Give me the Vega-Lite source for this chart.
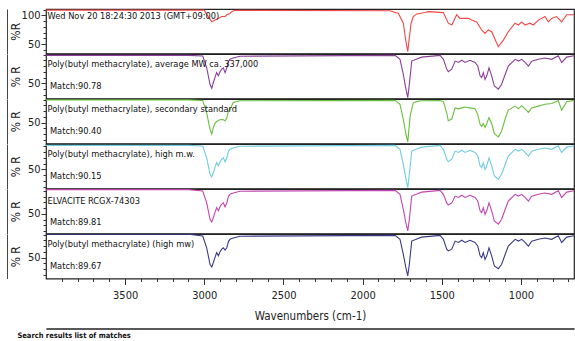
{
"$schema": "https://vega.github.io/schema/vega-lite/v6.json",
"padding": {"left": 6, "top": 2, "right": 0, "bottom": 0},
"spacing": 0,
"bounds": "flush",
"title": {"text": "Search results list of matches", "orient": "bottom", "anchor": "start", "frame": "bounds", "offset": 3, "dx": 11, "fontSize": 7.5, "fontWeight": "bold", "color": "#111"},
"datasets": {
"labels": [
{"p":1,"name":"Wed Nov 20 18:24:30 2013 (GMT+09:00)","match":""},
{"p":2,"name":"Poly(butyl methacrylate), average MW ca. 337,000","match":"Match:90.78"},
{"p":3,"name":"Poly(butyl methacrylate), secondary standard","match":"Match:90.40"},
{"p":4,"name":"Poly(butyl methacrylate), high m.w.","match":"Match:90.15"},
{"p":5,"name":"ELVACITE RCGX-74303","match":"Match:89.81"},
{"p":6,"name":"Poly(butyl methacrylate) (high mw)","match":"Match:89.67"}
],
"spectra": [
{"p":1,"w":4000,"r":109},{"p":1,"w":3000,"r":109},{"p":1,"w":2996,"r":106.4},{"p":1,"w":2975,"r":97.9},{"p":1,"w":2953,"r":88.7},{"p":1,"w":2932,"r":91.8},{"p":1,"w":2911,"r":94.8},{"p":1,"w":2890,"r":97.9},{"p":1,"w":2869,"r":97.9},{"p":1,"w":2858,"r":101},{"p":1,"w":2838,"r":103.3},{"p":1,"w":2827,"r":106.4},{"p":1,"w":2806,"r":108.7},{"p":1,"w":1827,"r":107.9},{"p":1,"w":1774,"r":103.3},{"p":1,"w":1743,"r":86.4},{"p":1,"w":1728,"r":57.1},{"p":1,"w":1715,"r":37.1},{"p":1,"w":1707,"r":57.1},{"p":1,"w":1694,"r":86.4},{"p":1,"w":1680,"r":97.9},{"p":1,"w":1658,"r":102.5},{"p":1,"w":1606,"r":104.8},{"p":1,"w":1585,"r":106.4},{"p":1,"w":1490,"r":104.8},{"p":1,"w":1459,"r":86.4},{"p":1,"w":1437,"r":83.3},{"p":1,"w":1406,"r":101},{"p":1,"w":1385,"r":94.8},{"p":1,"w":1364,"r":94.8},{"p":1,"w":1332,"r":94.8},{"p":1,"w":1311,"r":91.8},{"p":1,"w":1280,"r":88.7},{"p":1,"w":1248,"r":74.8},{"p":1,"w":1227,"r":68.7},{"p":1,"w":1206,"r":74.8},{"p":1,"w":1185,"r":71.7},{"p":1,"w":1143,"r":45.6},{"p":1,"w":1111,"r":57.1},{"p":1,"w":1080,"r":71.7},{"p":1,"w":1037,"r":86.4},{"p":1,"w":1016,"r":83.3},{"p":1,"w":995,"r":88.7},{"p":1,"w":974,"r":83.3},{"p":1,"w":943,"r":86.4},{"p":1,"w":922,"r":83.3},{"p":1,"w":890,"r":91.8},{"p":1,"w":848,"r":97.9},{"p":1,"w":827,"r":88.7},{"p":1,"w":806,"r":94.8},{"p":1,"w":775,"r":97.9},{"p":1,"w":743,"r":88.7},{"p":1,"w":711,"r":101},{"p":1,"w":665,"r":101},
{"p":2,"w":4000,"r":98.7},{"p":2,"w":3100,"r":98.7},{"p":2,"w":3010,"r":97.5},{"p":2,"w":2985,"r":77.1},{"p":2,"w":2964,"r":48.6},{"p":2,"w":2953,"r":41.7},{"p":2,"w":2943,"r":51.7},{"p":2,"w":2932,"r":61},{"p":2,"w":2922,"r":68.7},{"p":2,"w":2911,"r":63.3},{"p":2,"w":2901,"r":70.2},{"p":2,"w":2890,"r":74.8},{"p":2,"w":2880,"r":77.1},{"p":2,"w":2869,"r":68.7},{"p":2,"w":2858,"r":77.1},{"p":2,"w":2848,"r":87.9},{"p":2,"w":2838,"r":91.8},{"p":2,"w":2817,"r":94.1},{"p":2,"w":2775,"r":97.2},{"p":2,"w":1795,"r":98.7},{"p":2,"w":1764,"r":91.8},{"p":2,"w":1743,"r":65.6},{"p":2,"w":1728,"r":42.5},{"p":2,"w":1715,"r":25.5},{"p":2,"w":1705,"r":48.6},{"p":2,"w":1690,"r":88.7},{"p":2,"w":1658,"r":92.5},{"p":2,"w":1627,"r":95.6},{"p":2,"w":1511,"r":98.7},{"p":2,"w":1490,"r":91.8},{"p":2,"w":1469,"r":74.8},{"p":2,"w":1459,"r":70.2},{"p":2,"w":1437,"r":74.8},{"p":2,"w":1416,"r":88.7},{"p":2,"w":1395,"r":86.4},{"p":2,"w":1374,"r":90.2},{"p":2,"w":1353,"r":86.4},{"p":2,"w":1322,"r":90.2},{"p":2,"w":1290,"r":86.4},{"p":2,"w":1273,"r":80.2},{"p":2,"w":1258,"r":63.3},{"p":2,"w":1248,"r":60.2},{"p":2,"w":1238,"r":68.7},{"p":2,"w":1227,"r":57.1},{"p":2,"w":1216,"r":63.3},{"p":2,"w":1202,"r":77.1},{"p":2,"w":1185,"r":63.3},{"p":2,"w":1168,"r":45.6},{"p":2,"w":1143,"r":40.2},{"p":2,"w":1122,"r":48.6},{"p":2,"w":1100,"r":65.6},{"p":2,"w":1080,"r":80.2},{"p":2,"w":1037,"r":91.8},{"p":2,"w":1016,"r":88.7},{"p":2,"w":995,"r":91.8},{"p":2,"w":974,"r":86.4},{"p":2,"w":953,"r":80.2},{"p":2,"w":932,"r":88.7},{"p":2,"w":890,"r":91.8},{"p":2,"w":848,"r":94.1},{"p":2,"w":806,"r":91.8},{"p":2,"w":764,"r":97.9},{"p":2,"w":743,"r":86.4},{"p":2,"w":711,"r":95.6},{"p":2,"w":665,"r":97.9},
{"p":3,"w":4000,"r":89.5},{"p":3,"w":3100,"r":89.5},{"p":3,"w":3010,"r":88.5},{"p":3,"w":2985,"r":67.1},{"p":3,"w":2964,"r":38.6},{"p":3,"w":2953,"r":30.2},{"p":3,"w":2943,"r":41.7},{"p":3,"w":2932,"r":49},{"p":3,"w":2922,"r":52},{"p":3,"w":2911,"r":54},{"p":3,"w":2901,"r":55},{"p":3,"w":2890,"r":55.6},{"p":3,"w":2880,"r":55},{"p":3,"w":2869,"r":53.3},{"p":3,"w":2858,"r":58},{"p":3,"w":2848,"r":70},{"p":3,"w":2838,"r":73},{"p":3,"w":2817,"r":84.8},{"p":3,"w":2775,"r":88},{"p":3,"w":1795,"r":88.7},{"p":3,"w":1764,"r":81.8},{"p":3,"w":1743,"r":55.6},{"p":3,"w":1728,"r":32.5},{"p":3,"w":1715,"r":16.5},{"p":3,"w":1700,"r":61.7},{"p":3,"w":1680,"r":84.8},{"p":3,"w":1658,"r":86.5},{"p":3,"w":1627,"r":87.9},{"p":3,"w":1511,"r":88.5},{"p":3,"w":1490,"r":86.5},{"p":3,"w":1469,"r":67.1},{"p":3,"w":1459,"r":53.3},{"p":3,"w":1437,"r":56.4},{"p":3,"w":1416,"r":75.6},{"p":3,"w":1395,"r":74},{"p":3,"w":1374,"r":75.6},{"p":3,"w":1353,"r":77.1},{"p":3,"w":1322,"r":75.6},{"p":3,"w":1290,"r":74},{"p":3,"w":1273,"r":64},{"p":3,"w":1258,"r":47.1},{"p":3,"w":1248,"r":43.3},{"p":3,"w":1238,"r":48.6},{"p":3,"w":1227,"r":41.7},{"p":3,"w":1216,"r":48.6},{"p":3,"w":1202,"r":58.7},{"p":3,"w":1185,"r":48.6},{"p":3,"w":1168,"r":30.9},{"p":3,"w":1143,"r":25.5},{"p":3,"w":1122,"r":35.6},{"p":3,"w":1100,"r":56.4},{"p":3,"w":1080,"r":71.8},{"p":3,"w":1037,"r":78.7},{"p":3,"w":1016,"r":74},{"p":3,"w":995,"r":79.5},{"p":3,"w":974,"r":74},{"p":3,"w":953,"r":67.9},{"p":3,"w":932,"r":75.6},{"p":3,"w":890,"r":78.7},{"p":3,"w":848,"r":81.8},{"p":3,"w":806,"r":83.3},{"p":3,"w":764,"r":87.9},{"p":3,"w":743,"r":71.8},{"p":3,"w":711,"r":86.4},{"p":3,"w":665,"r":88.7},
{"p":4,"w":4000,"r":91.7},{"p":4,"w":3100,"r":91.7},{"p":4,"w":3010,"r":90.5},{"p":4,"w":2985,"r":70.1},{"p":4,"w":2964,"r":41.6},{"p":4,"w":2953,"r":37},{"p":4,"w":2943,"r":44.7},{"p":4,"w":2932,"r":54},{"p":4,"w":2922,"r":61.7},{"p":4,"w":2911,"r":56.3},{"p":4,"w":2901,"r":63.2},{"p":4,"w":2890,"r":67.8},{"p":4,"w":2880,"r":70.1},{"p":4,"w":2869,"r":63.2},{"p":4,"w":2858,"r":70.1},{"p":4,"w":2848,"r":80.9},{"p":4,"w":2838,"r":84.8},{"p":4,"w":2817,"r":87.1},{"p":4,"w":2775,"r":90.2},{"p":4,"w":1795,"r":91.7},{"p":4,"w":1764,"r":84.8},{"p":4,"w":1743,"r":58.6},{"p":4,"w":1728,"r":35.5},{"p":4,"w":1715,"r":18.5},{"p":4,"w":1705,"r":41.6},{"p":4,"w":1690,"r":81.7},{"p":4,"w":1658,"r":85.5},{"p":4,"w":1627,"r":88.6},{"p":4,"w":1511,"r":91.7},{"p":4,"w":1490,"r":84.8},{"p":4,"w":1469,"r":67.8},{"p":4,"w":1459,"r":63.2},{"p":4,"w":1437,"r":67.8},{"p":4,"w":1416,"r":81.7},{"p":4,"w":1395,"r":79.4},{"p":4,"w":1374,"r":83.2},{"p":4,"w":1353,"r":79.4},{"p":4,"w":1322,"r":83.2},{"p":4,"w":1290,"r":79.4},{"p":4,"w":1273,"r":73.2},{"p":4,"w":1258,"r":56.3},{"p":4,"w":1248,"r":53.2},{"p":4,"w":1238,"r":61.7},{"p":4,"w":1227,"r":50.1},{"p":4,"w":1216,"r":56.3},{"p":4,"w":1202,"r":70.1},{"p":4,"w":1185,"r":56.3},{"p":4,"w":1168,"r":38.6},{"p":4,"w":1143,"r":33.2},{"p":4,"w":1122,"r":41.6},{"p":4,"w":1100,"r":58.6},{"p":4,"w":1080,"r":73.2},{"p":4,"w":1037,"r":84.8},{"p":4,"w":1016,"r":81.7},{"p":4,"w":995,"r":84.8},{"p":4,"w":974,"r":79.4},{"p":4,"w":953,"r":73.2},{"p":4,"w":932,"r":81.7},{"p":4,"w":890,"r":84.8},{"p":4,"w":848,"r":87.1},{"p":4,"w":806,"r":84.8},{"p":4,"w":764,"r":90.9},{"p":4,"w":743,"r":79.4},{"p":4,"w":711,"r":88.6},{"p":4,"w":665,"r":90.9},
{"p":5,"w":4000,"r":92},{"p":5,"w":3100,"r":92},{"p":5,"w":3010,"r":89.5},{"p":5,"w":2985,"r":69.1},{"p":5,"w":2964,"r":40.6},{"p":5,"w":2953,"r":36},{"p":5,"w":2943,"r":43.7},{"p":5,"w":2932,"r":53},{"p":5,"w":2922,"r":60.7},{"p":5,"w":2911,"r":55.3},{"p":5,"w":2901,"r":62.2},{"p":5,"w":2890,"r":66.8},{"p":5,"w":2880,"r":69.1},{"p":5,"w":2869,"r":62.2},{"p":5,"w":2858,"r":69.1},{"p":5,"w":2848,"r":79.9},{"p":5,"w":2838,"r":83.8},{"p":5,"w":2817,"r":86.1},{"p":5,"w":2775,"r":89.2},{"p":5,"w":1795,"r":90.7},{"p":5,"w":1764,"r":83.8},{"p":5,"w":1743,"r":57.6},{"p":5,"w":1728,"r":36},{"p":5,"w":1715,"r":20.6},{"p":5,"w":1705,"r":40.6},{"p":5,"w":1690,"r":80.7},{"p":5,"w":1658,"r":84.5},{"p":5,"w":1627,"r":87.6},{"p":5,"w":1511,"r":90.7},{"p":5,"w":1490,"r":83.8},{"p":5,"w":1469,"r":69},{"p":5,"w":1459,"r":65.3},{"p":5,"w":1437,"r":69},{"p":5,"w":1416,"r":80.7},{"p":5,"w":1395,"r":78.4},{"p":5,"w":1374,"r":82.2},{"p":5,"w":1353,"r":78.4},{"p":5,"w":1322,"r":82.2},{"p":5,"w":1290,"r":78.4},{"p":5,"w":1273,"r":72.2},{"p":5,"w":1258,"r":55.3},{"p":5,"w":1248,"r":52.2},{"p":5,"w":1238,"r":60.7},{"p":5,"w":1227,"r":49.1},{"p":5,"w":1216,"r":55.3},{"p":5,"w":1202,"r":69.1},{"p":5,"w":1185,"r":55.3},{"p":5,"w":1168,"r":37.6},{"p":5,"w":1143,"r":32.2},{"p":5,"w":1122,"r":40.6},{"p":5,"w":1100,"r":57.6},{"p":5,"w":1080,"r":72.2},{"p":5,"w":1037,"r":83.8},{"p":5,"w":1016,"r":80.7},{"p":5,"w":995,"r":83.8},{"p":5,"w":974,"r":78.4},{"p":5,"w":953,"r":72.2},{"p":5,"w":932,"r":80.7},{"p":5,"w":890,"r":83.8},{"p":5,"w":848,"r":86.1},{"p":5,"w":806,"r":83.8},{"p":5,"w":764,"r":89.9},{"p":5,"w":743,"r":78.4},{"p":5,"w":711,"r":87.6},{"p":5,"w":665,"r":89.9},
{"p":6,"w":4000,"r":90.5},{"p":6,"w":3100,"r":90.5},{"p":6,"w":3010,"r":87.5},{"p":6,"w":2985,"r":67.1},{"p":6,"w":2964,"r":38.6},{"p":6,"w":2953,"r":34},{"p":6,"w":2943,"r":41.7},{"p":6,"w":2932,"r":51},{"p":6,"w":2922,"r":58.7},{"p":6,"w":2911,"r":53.3},{"p":6,"w":2901,"r":60.2},{"p":6,"w":2890,"r":64.8},{"p":6,"w":2880,"r":67.1},{"p":6,"w":2869,"r":63.3},{"p":6,"w":2858,"r":67.1},{"p":6,"w":2848,"r":77.9},{"p":6,"w":2838,"r":81.8},{"p":6,"w":2817,"r":84.1},{"p":6,"w":2775,"r":87.2},{"p":6,"w":1795,"r":88.7},{"p":6,"w":1764,"r":81.8},{"p":6,"w":1743,"r":55.6},{"p":6,"w":1728,"r":34},{"p":6,"w":1715,"r":18.6},{"p":6,"w":1705,"r":38.6},{"p":6,"w":1690,"r":78.7},{"p":6,"w":1658,"r":82.5},{"p":6,"w":1627,"r":85.6},{"p":6,"w":1511,"r":88.7},{"p":6,"w":1490,"r":81.8},{"p":6,"w":1469,"r":64.8},{"p":6,"w":1459,"r":61.7},{"p":6,"w":1437,"r":64.8},{"p":6,"w":1416,"r":78.7},{"p":6,"w":1395,"r":76.4},{"p":6,"w":1374,"r":80.2},{"p":6,"w":1353,"r":76.4},{"p":6,"w":1322,"r":80.2},{"p":6,"w":1290,"r":76.4},{"p":6,"w":1273,"r":70.2},{"p":6,"w":1258,"r":53.3},{"p":6,"w":1248,"r":50.2},{"p":6,"w":1238,"r":58.7},{"p":6,"w":1227,"r":47.1},{"p":6,"w":1216,"r":53.3},{"p":6,"w":1202,"r":67.1},{"p":6,"w":1185,"r":53.3},{"p":6,"w":1168,"r":35.6},{"p":6,"w":1143,"r":31},{"p":6,"w":1122,"r":38.6},{"p":6,"w":1100,"r":55.6},{"p":6,"w":1080,"r":70.2},{"p":6,"w":1037,"r":81.8},{"p":6,"w":1016,"r":78.7},{"p":6,"w":995,"r":81.8},{"p":6,"w":974,"r":76.4},{"p":6,"w":953,"r":70.2},{"p":6,"w":932,"r":78.7},{"p":6,"w":890,"r":81.8},{"p":6,"w":848,"r":84.1},{"p":6,"w":806,"r":81.8},{"p":6,"w":764,"r":87.9},{"p":6,"w":743,"r":76.4},{"p":6,"w":711,"r":85.6},{"p":6,"w":665,"r":87.9}
]
},
"vconcat": [
{"width": 528, "height": 44.5,
 "layer": [
  {"data": {"name": "spectra"}, "transform": [{"filter": "datum.p === 1"}],
   "mark": {"type": "line", "color": "#f04848", "strokeWidth": 1.1, "clip": true},
   "encoding": {
    "x": {"field": "w", "type": "quantitative", "scale": {"domain": [4000, 665], "nice": false, "zero": false}, "axis": null},
    "y": {"field": "r", "type": "quantitative", "scale": {"domain": [34, 111], "nice": false, "zero": false},
     "axis": {"title": "%R", "values": [40,50,60,70,80,90,100,110], "labelExpr": "datum.value === 50 || datum.value === 100 ? datum.label : ''", "tickSize": {"condition": {"test": "datum.value % 50 === 0", "value": 5}, "value": 3}, "labelFontSize": 11, "labelPadding": 1, "titleFontSize": 12, "titleX": -31, "titleBaseline": "middle"}}}},
  {"data": {"name": "labels"}, "transform": [{"filter": "datum.p === 1"}],
   "mark": {"type": "text", "align": "left", "baseline": "middle", "fontSize": 9.2, "color": "#111"},
   "encoding": {
    "x": {"datum": 3990, "type": "quantitative", "scale": {"domain": [4000, 665], "nice": false, "zero": false}, "axis": null},
    "y": {"datum": 99, "type": "quantitative", "scale": {"domain": [34, 111], "nice": false, "zero": false},
     "axis": {"orient": "left", "offset": 39, "labels": false, "ticks": false, "title": null, "domain": true, "domainColor": "#444"}},
    "text": {"field": "name"}}}
 ],
 "resolve": {"axis": {"y": "independent"}}},
{"width": 528, "height": 44.5,
 "layer": [
  {"data": {"name": "spectra"}, "transform": [{"filter": "datum.p === 2"}],
   "mark": {"type": "line", "color": "#8b3f98", "strokeWidth": 1.1, "clip": true},
   "encoding": {
    "x": {"field": "w", "type": "quantitative", "scale": {"domain": [4000, 665], "nice": false, "zero": false}, "axis": null},
    "y": {"field": "r", "type": "quantitative", "scale": {"domain": [24, 101], "nice": false, "zero": false},
     "axis": {"title": "% R", "values": [30,40,50,60,70,80,90,100], "labelExpr": "datum.value === 50 ? datum.label : ''", "tickSize": {"condition": {"test": "datum.value === 50", "value": 5}, "value": 3}, "labelFontSize": 11, "labelPadding": 1, "titleFontSize": 12, "titleX": -31, "titleBaseline": "middle"}}}},
  {"data": {"name": "labels"}, "transform": [{"filter": "datum.p === 2"}],
   "mark": {"type": "text", "align": "left", "baseline": "middle", "fontSize": 9.2, "color": "#111"},
   "encoding": {
    "x": {"datum": 3990, "type": "quantitative", "scale": {"domain": [4000, 665], "nice": false, "zero": false}, "axis": null},
    "y": {"datum": 83, "type": "quantitative", "scale": {"domain": [24, 101], "nice": false, "zero": false},
     "axis": {"orient": "left", "offset": 39, "labels": false, "ticks": false, "title": null, "domain": true, "domainColor": "#444"}},
    "text": {"field": "name"}}},
  {"data": {"name": "labels"}, "transform": [{"filter": "datum.p === 2"}],
   "mark": {"type": "text", "align": "left", "baseline": "middle", "fontSize": 9.2, "color": "#111"},
   "encoding": {
    "x": {"datum": 3975, "type": "quantitative", "scale": {"domain": [4000, 665], "nice": false, "zero": false}, "axis": null},
    "y": {"datum": 46, "type": "quantitative", "scale": {"domain": [24, 101], "nice": false, "zero": false}, "axis": null},
    "text": {"field": "match"}}}
 ],
 "resolve": {"axis": {"y": "independent"}}},
{"width": 528, "height": 44.5,
 "layer": [
  {"data": {"name": "spectra"}, "transform": [{"filter": "datum.p === 3"}],
   "mark": {"type": "line", "color": "#6abf40", "strokeWidth": 1.1, "clip": true},
   "encoding": {
    "x": {"field": "w", "type": "quantitative", "scale": {"domain": [4000, 665], "nice": false, "zero": false}, "axis": null},
    "y": {"field": "r", "type": "quantitative", "scale": {"domain": [14, 91], "nice": false, "zero": false},
     "axis": {"title": "% R", "values": [20,30,40,50,60,70,80,90], "labelExpr": "datum.value === 50 ? datum.label : ''", "tickSize": {"condition": {"test": "datum.value === 50", "value": 5}, "value": 3}, "labelFontSize": 11, "labelPadding": 1, "titleFontSize": 12, "titleX": -31, "titleBaseline": "middle"}}}},
  {"data": {"name": "labels"}, "transform": [{"filter": "datum.p === 3"}],
   "mark": {"type": "text", "align": "left", "baseline": "middle", "fontSize": 9.2, "color": "#111"},
   "encoding": {
    "x": {"datum": 3990, "type": "quantitative", "scale": {"domain": [4000, 665], "nice": false, "zero": false}, "axis": null},
    "y": {"datum": 73, "type": "quantitative", "scale": {"domain": [14, 91], "nice": false, "zero": false},
     "axis": {"orient": "left", "offset": 39, "labels": false, "ticks": false, "title": null, "domain": true, "domainColor": "#444"}},
    "text": {"field": "name"}}},
  {"data": {"name": "labels"}, "transform": [{"filter": "datum.p === 3"}],
   "mark": {"type": "text", "align": "left", "baseline": "middle", "fontSize": 9.2, "color": "#111"},
   "encoding": {
    "x": {"datum": 3975, "type": "quantitative", "scale": {"domain": [4000, 665], "nice": false, "zero": false}, "axis": null},
    "y": {"datum": 36, "type": "quantitative", "scale": {"domain": [14, 91], "nice": false, "zero": false}, "axis": null},
    "text": {"field": "match"}}}
 ],
 "resolve": {"axis": {"y": "independent"}}},
{"width": 528, "height": 44.5,
 "layer": [
  {"data": {"name": "spectra"}, "transform": [{"filter": "datum.p === 4"}],
   "mark": {"type": "line", "color": "#6ecde0", "strokeWidth": 1.1, "clip": true},
   "encoding": {
    "x": {"field": "w", "type": "quantitative", "scale": {"domain": [4000, 665], "nice": false, "zero": false}, "axis": null},
    "y": {"field": "r", "type": "quantitative", "scale": {"domain": [17, 94], "nice": false, "zero": false},
     "axis": {"title": "% R", "values": [20,30,40,50,60,70,80,90], "labelExpr": "datum.value === 50 ? datum.label : ''", "tickSize": {"condition": {"test": "datum.value === 50", "value": 5}, "value": 3}, "labelFontSize": 11, "labelPadding": 1, "titleFontSize": 12, "titleX": -31, "titleBaseline": "middle"}}}},
  {"data": {"name": "labels"}, "transform": [{"filter": "datum.p === 4"}],
   "mark": {"type": "text", "align": "left", "baseline": "middle", "fontSize": 9.2, "color": "#111"},
   "encoding": {
    "x": {"datum": 3990, "type": "quantitative", "scale": {"domain": [4000, 665], "nice": false, "zero": false}, "axis": null},
    "y": {"datum": 76, "type": "quantitative", "scale": {"domain": [17, 94], "nice": false, "zero": false},
     "axis": {"orient": "left", "offset": 39, "labels": false, "ticks": false, "title": null, "domain": true, "domainColor": "#444"}},
    "text": {"field": "name"}}},
  {"data": {"name": "labels"}, "transform": [{"filter": "datum.p === 4"}],
   "mark": {"type": "text", "align": "left", "baseline": "middle", "fontSize": 9.2, "color": "#111"},
   "encoding": {
    "x": {"datum": 3975, "type": "quantitative", "scale": {"domain": [4000, 665], "nice": false, "zero": false}, "axis": null},
    "y": {"datum": 39, "type": "quantitative", "scale": {"domain": [17, 94], "nice": false, "zero": false}, "axis": null},
    "text": {"field": "match"}}}
 ],
 "resolve": {"axis": {"y": "independent"}}},
{"width": 528, "height": 44.5,
 "layer": [
  {"data": {"name": "spectra"}, "transform": [{"filter": "datum.p === 5"}],
   "mark": {"type": "line", "color": "#c046b0", "strokeWidth": 1.1, "clip": true},
   "encoding": {
    "x": {"field": "w", "type": "quantitative", "scale": {"domain": [4000, 665], "nice": false, "zero": false}, "axis": null},
    "y": {"field": "r", "type": "quantitative", "scale": {"domain": [16, 93], "nice": false, "zero": false},
     "axis": {"title": "% R", "values": [20,30,40,50,60,70,80,90], "labelExpr": "datum.value === 50 ? datum.label : ''", "tickSize": {"condition": {"test": "datum.value === 50", "value": 5}, "value": 3}, "labelFontSize": 11, "labelPadding": 1, "titleFontSize": 12, "titleX": -31, "titleBaseline": "middle"}}}},
  {"data": {"name": "labels"}, "transform": [{"filter": "datum.p === 5"}],
   "mark": {"type": "text", "align": "left", "baseline": "middle", "fontSize": 9.2, "color": "#111"},
   "encoding": {
    "x": {"datum": 3990, "type": "quantitative", "scale": {"domain": [4000, 665], "nice": false, "zero": false}, "axis": null},
    "y": {"datum": 73, "type": "quantitative", "scale": {"domain": [16, 93], "nice": false, "zero": false},
     "axis": {"orient": "left", "offset": 39, "labels": false, "ticks": false, "title": null, "domain": true, "domainColor": "#444"}},
    "text": {"field": "name"}}},
  {"data": {"name": "labels"}, "transform": [{"filter": "datum.p === 5"}],
   "mark": {"type": "text", "align": "left", "baseline": "middle", "fontSize": 9.2, "color": "#111"},
   "encoding": {
    "x": {"datum": 3975, "type": "quantitative", "scale": {"domain": [4000, 665], "nice": false, "zero": false}, "axis": null},
    "y": {"datum": 36, "type": "quantitative", "scale": {"domain": [16, 93], "nice": false, "zero": false}, "axis": null},
    "text": {"field": "match"}}}
 ],
 "resolve": {"axis": {"y": "independent"}}},
{"width": 528, "height": 44.5,
 "layer": [
  {"data": {"name": "spectra"}, "transform": [{"filter": "datum.p === 6"}],
   "mark": {"type": "line", "color": "#3a3a8a", "strokeWidth": 1.1, "clip": true},
   "encoding": {
    "x": {"field": "w", "type": "quantitative", "scale": {"domain": [4000, 665], "nice": false, "zero": false},
     "axis": {"title": "Wavenumbers (cm-1)", "format": "d", "values": [700,800,900,1000,1100,1200,1300,1400,1500,1600,1700,1800,1900,2000,2100,2200,2300,2400,2500,2600,2700,2800,2900,3000,3100,3200,3300,3400,3500,3600,3700,3800,3900], "labelExpr": "datum.value % 500 === 0 ? datum.label : ''", "tickSize": {"condition": {"test": "datum.value % 500 === 0", "value": 6}, "value": 3}, "labelFontSize": 11, "labelPadding": 5, "titleFontSize": 11.5, "titlePadding": 10}},
    "y": {"field": "r", "type": "quantitative", "scale": {"domain": [14, 91], "nice": false, "zero": false},
     "axis": {"title": "% R", "values": [20,30,40,50,60,70,80,90], "labelExpr": "datum.value === 50 ? datum.label : ''", "tickSize": {"condition": {"test": "datum.value === 50", "value": 5}, "value": 3}, "labelFontSize": 11, "labelPadding": 1, "titleFontSize": 12, "titleX": -31, "titleBaseline": "middle"}}}},
  {"data": {"name": "labels"}, "transform": [{"filter": "datum.p === 6"}],
   "mark": {"type": "text", "align": "left", "baseline": "middle", "fontSize": 9.2, "color": "#111"},
   "encoding": {
    "x": {"datum": 3990, "type": "quantitative", "scale": {"domain": [4000, 665], "nice": false, "zero": false},
     "axis": {"orient": "bottom", "offset": 50, "labels": false, "ticks": false, "title": null, "domain": true, "domainColor": "#222", "domainWidth": 1.2}},
    "y": {"datum": 73, "type": "quantitative", "scale": {"domain": [14, 91], "nice": false, "zero": false},
     "axis": {"orient": "left", "offset": 39, "labels": false, "ticks": false, "title": null, "domain": true, "domainColor": "#444"}},
    "text": {"field": "name"}}},
  {"data": {"name": "labels"}, "transform": [{"filter": "datum.p === 6"}],
   "mark": {"type": "text", "align": "left", "baseline": "middle", "fontSize": 9.2, "color": "#111"},
   "encoding": {
    "x": {"datum": 3975, "type": "quantitative", "scale": {"domain": [4000, 665], "nice": false, "zero": false},
     "axis": {"orient": "bottom", "offset": 50, "labels": false, "ticks": false, "title": null, "domain": true, "domainColor": "#222", "domainWidth": 1.2}},
    "y": {"datum": 36, "type": "quantitative", "scale": {"domain": [14, 91], "nice": false, "zero": false}, "axis": null},
    "text": {"field": "match"}}}
 ],
 "resolve": {"axis": {"x": "independent", "y": "independent"}}}
],
"config": {
 "font": "Liberation Sans Narrow, DejaVu Sans Condensed, Liberation Sans, sans-serif",
 "view": {"stroke": "#222", "strokeWidth": 1.2},
 "text": {"font": "Liberation Sans Narrow, DejaVu Sans Condensed, Liberation Sans, sans-serif"},
 "title": {"font": "Liberation Sans Narrow, DejaVu Sans Condensed, Liberation Sans, sans-serif"},
 "axis": {"labelFont": "Liberation Sans Narrow, DejaVu Sans Condensed, Liberation Sans, sans-serif", "titleFont": "Liberation Sans Narrow, DejaVu Sans Condensed, Liberation Sans, sans-serif", "grid": false, "domain": false, "tickColor": "#333", "labelColor": "#222", "titleColor": "#222", "titleFontWeight": "normal", "labelOverlap": false, "labelFlush": false}
}
}
